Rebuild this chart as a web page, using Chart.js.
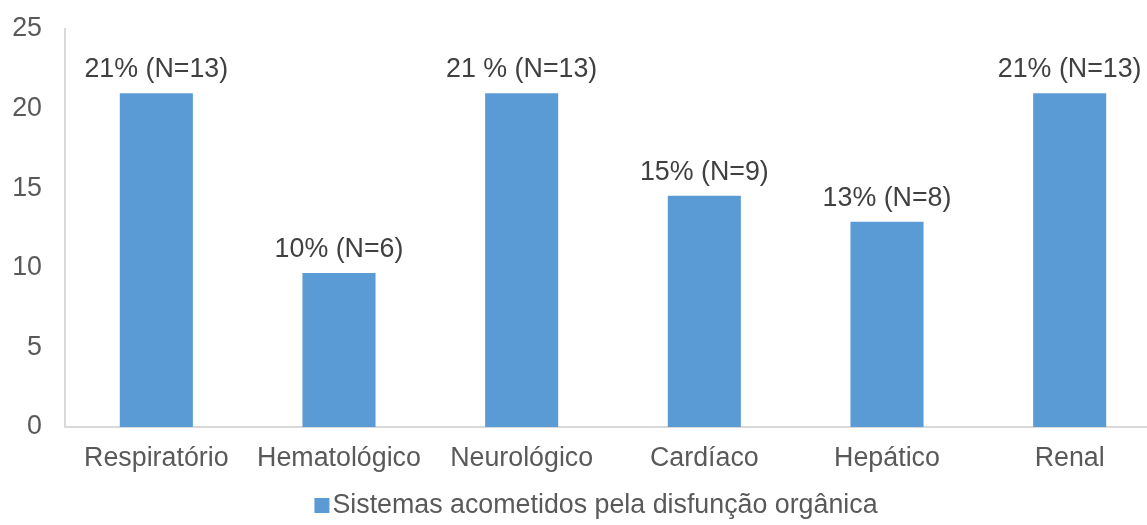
<!DOCTYPE html>
<html>
<head>
<meta charset="utf-8">
<script src="https://cdn.jsdelivr.net/npm/chart.js@4/dist/chart.umd.min.js"></script>
<style>
  html, body { margin: 0; padding: 0; overflow: hidden; background: #ffffff; }
  #wrap { width: 1192px; height: 525px; position: relative; }
</style>
</head>
<body>
<div id="wrap"><canvas id="chart"></canvas></div>
<script>
// Organ systems affected by dysfunction (share of patients, %)
const categories = ['Respiratório', 'Hematológico', 'Neurológico', 'Cardíaco', 'Hepático', 'Renal'];
const percentValues = [20.97, 9.68, 20.97, 14.52, 12.90, 20.97];
const percentText = ['21%', '10%', '21 %', '15%', '13%', '21%'];
const patientCounts = [13, 6, 13, 9, 8, 13];
const yTicks = [0, 5, 10, 15, 20, 25];
const seriesName = 'Sistemas acometidos pela disfunção orgânica';

const FONT = "'Liberation Sans', Arial, Helvetica, sans-serif";
const FONT_SIZE = 26.8;
const BAR_COLOR = '#5B9BD5';
const AXIS_COLOR = '#D9D9D9';

// Text above each bar: "xx% (N=n)"
const valueLabels = {
  id: 'valueLabels',
  afterDatasetsDraw(chart) {
    const ctx = chart.ctx;
    const meta = chart.getDatasetMeta(0);
    ctx.save();
    ctx.font = `${FONT_SIZE}px ${FONT}`;
    ctx.fillStyle = '#404040';
    ctx.textAlign = 'center';
    ctx.textBaseline = 'alphabetic';
    meta.data.forEach((bar, i) => {
      ctx.fillText(`${percentText[i]} (N=${patientCounts[i]})`, bar.x, bar.y - 16);
    });
    ctx.restore();
  }
};

// Legend: small square swatch with the series name, centred below the axis
const seriesLegend = {
  id: 'seriesLegend',
  afterDraw(chart) {
    const ctx = chart.ctx;
    const ds = chart.data.datasets[0];
    ctx.save();
    ctx.font = `${FONT_SIZE}px ${FONT}`;
    const w = ctx.measureText(ds.label).width;
    const box = 15, gap = 3;
    const x0 = chart.width / 2 - (box + gap + w) / 2;
    ctx.fillStyle = ds.backgroundColor;
    ctx.fillRect(x0, 498, box, box);
    ctx.fillStyle = '#595959';
    ctx.textAlign = 'left';
    ctx.textBaseline = 'alphabetic';
    ctx.fillText(ds.label, x0 + box + gap, 513);
    ctx.restore();
  }
};

new Chart(document.getElementById('chart'), {
  type: 'bar',
  data: {
    labels: categories,
    datasets: [{
      label: seriesName,
      data: percentValues,
      backgroundColor: BAR_COLOR,
      borderWidth: 0,
      categoryPercentage: 0.4,
      barPercentage: 1.0
    }]
  },
  options: {
    responsive: true,
    maintainAspectRatio: false,
    animation: false,
    layout: { padding: { left: 0, top: 29, right: 31, bottom: 28 } },
    plugins: {
      legend: { display: false },
      tooltip: { enabled: false }
    },
    scales: {
      x: {
        grid: { display: false, drawTicks: false },
        border: { display: true, color: AXIS_COLOR, width: 2 },
        ticks: { color: '#595959', font: { family: FONT, size: FONT_SIZE }, padding: 16, maxRotation: 0, autoSkip: false },
        afterFit(scale) { scale.height = 70; scale.paddingLeft = 0; scale.paddingRight = 0; }
      },
      y: {
        min: yTicks[0],
        max: yTicks[yTicks.length - 1],
        grid: { display: false, drawTicks: false },
        border: { display: true, color: AXIS_COLOR, width: 2 },
        ticks: {
          stepSize: yTicks[1] - yTicks[0],
          color: '#595959',
          font: { family: FONT, size: FONT_SIZE },
          padding: 23
        },
        afterFit(scale) { scale.width = 65; scale.paddingTop = 0; scale.paddingBottom = 0; }
      }
    }
  },
  plugins: [valueLabels, seriesLegend]
});
</script>
</body>
</html>
